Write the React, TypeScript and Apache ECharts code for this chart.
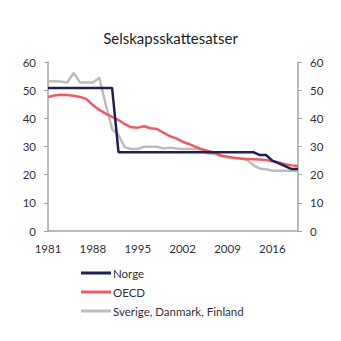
import React, { useEffect, useRef } from "react";
import * as echarts from "echarts";

const years: string[] = [];
for (let y = 1981; y <= 2020; y++) years.push(String(y));

const norge = [
  50.8, 50.8, 50.8, 50.8, 50.8, 50.8, 50.8, 50.8, 50.8, 50.8, 50.8,
  28, 28, 28, 28, 28, 28, 28, 28, 28, 28, 28, 28, 28, 28, 28, 28, 28, 28, 28, 28, 28, 28,
  27, 27, 25, 24, 23, 22, 22,
];

const oecd = [
  47.6, 48.1, 48.4, 48.3, 48.0, 47.6, 46.8, 44.7, 43.0, 41.7, 40.5, 39.4, 37.9, 36.8, 36.7, 37.2, 36.5, 36.2, 34.9, 33.7,
  32.9, 31.7, 30.9, 29.9, 29.0, 28.4, 27.8, 26.8, 26.4, 26.0, 25.7, 25.6, 25.5, 25.4, 25.2, 24.8, 24.3, 23.7, 23.3, 23.1,
];

const nordic = [
  53.2, 53.2, 53.1, 52.7, 56.1, 52.7, 52.7, 52.7, 54.4, 45.0, 36.2, 34.0, 29.7, 29.1, 29.1, 29.9, 29.9, 29.9, 29.3, 29.6,
  29.3, 29.1, 29.1, 29.1, 28.8, 27.5, 27.3, 26.6, 26.1, 25.8, 25.8, 25.2, 23.4, 22.2, 21.9, 21.4, 21.4, 21.4, 21.4, 21.3,
];

const yTicks = [0, 10, 20, 30, 40, 50, 60];

export default function App() {
  const ref = useRef<HTMLDivElement>(null);
  useEffect(() => {
    document.body.style.margin = "0";
    if (!ref.current) return;
    const chart = echarts.init(ref.current, undefined, { renderer: "svg" });
    const font = "Lato, 'Open Sans', sans-serif";
    const axisColor = "#a6a6a6";
    const yAxisBase = {
      type: "value" as const,
      min: yTicks[0],
      max: yTicks[yTicks.length - 1],
      interval: 10,
      splitLine: { show: false },
      axisLine: { show: true, lineStyle: { color: axisColor, width: 1.5 } },
      axisTick: { show: true, length: 4, lineStyle: { color: axisColor } },
      axisLabel: { color: "#333", fontSize: 11.5, fontFamily: font, margin: 12 },
    };
    chart.setOption({
      animation: false,
      title: {
        text: "Selskapsskattesatser",
        left: "center",
        top: 25,
        textStyle: { fontSize: 15, fontWeight: "normal", color: "#222", fontFamily: font },
      },
      grid: { left: 48, right: 43, top: 62, bottom: 110 },
      xAxis: {
        type: "category",
        data: years,
        boundaryGap: false,
        axisLine: { show: true, lineStyle: { color: axisColor, width: 1.5 } },
        axisTick: { show: false },
        axisLabel: { interval: 6, color: "#333", fontSize: 11.5, fontFamily: font, margin: 11 },
      },
      yAxis: [
        { ...yAxisBase, position: "left" },
        { ...yAxisBase, position: "right" },
      ],
      legend: {
        orient: "vertical",
        left: 76,
        top: 261,
        icon: "rect",
        itemWidth: 30,
        itemHeight: 3,
        itemGap: 5,
        textStyle: { fontSize: 11.5, fontFamily: font, color: "#333", lineHeight: 14, padding: [0, 0, 0, -3] },
        data: ["Norge", "OECD", "Sverige, Danmark, Finland"],
      },
      series: [
        {
          name: "Sverige, Danmark, Finland",
          type: "line",
          data: nordic,
          symbol: "none",
          lineStyle: { color: "#bdbdbd", width: 2.5 },
          itemStyle: { color: "#bdbdbd" },
        },
        {
          name: "OECD",
          type: "line",
          data: oecd,
          symbol: "none",
          lineStyle: { color: "#f05a62", width: 2.5 },
          itemStyle: { color: "#f05a62" },
        },
        {
          name: "Norge",
          type: "line",
          data: norge,
          symbol: "none",
          lineStyle: { color: "#1e2157", width: 2.5 },
          itemStyle: { color: "#1e2157" },
        },
      ],
    });
    return () => chart.dispose();
  }, []);
  return <div ref={ref} style={{ width: 341, height: 341 }} />;
}
